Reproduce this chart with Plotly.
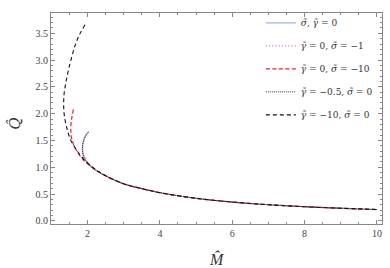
import plotly.graph_objects as go

# shared tail of all curves
tail_M = [2.5, 3.0, 3.5, 4.0, 5.0, 6.0, 7.0, 8.0, 9.0, 10.0]
tail_Q = [0.84, 0.69, 0.60, 0.525, 0.42, 0.35, 0.30, 0.263, 0.234, 0.21]

# sigma, gamma = 0
arc0_M = [2.03, 1.96, 1.91, 1.88, 1.865, 1.87, 1.90, 1.95, 2.02, 2.12, 2.26]
arc0_Q = [1.66, 1.60, 1.53, 1.45, 1.37, 1.29, 1.21, 1.14, 1.07, 1.00, 0.93]

# gamma = 0, sigma = -1
arc1_M = [2.03, 1.955, 1.905, 1.875, 1.86, 1.865, 1.895, 1.945, 2.015, 2.115, 2.26]
arc1_Q = [1.665, 1.60, 1.53, 1.45, 1.37, 1.29, 1.21, 1.14, 1.07, 1.00, 0.93]

# gamma = -0.5, sigma = 0
arc2_M = [2.02, 1.95, 1.90, 1.87, 1.855, 1.86, 1.89, 1.94, 2.01, 2.11, 2.26]
arc2_Q = [1.65, 1.59, 1.52, 1.44, 1.36, 1.28, 1.20, 1.13, 1.07, 1.00, 0.93]

# gamma = 0, sigma = -10
red_M = [1.61, 1.58, 1.555, 1.54, 1.54, 1.56, 1.61, 1.68, 1.77, 1.88, 2.01, 2.15, 2.30]
red_Q = [2.08, 1.98, 1.88, 1.78, 1.66, 1.54, 1.43, 1.33, 1.23, 1.14, 1.06, 0.99, 0.92]

# gamma = -10, sigma = 0
blk_M = [1.93, 1.78, 1.66, 1.56, 1.47, 1.40, 1.355, 1.34, 1.35, 1.39, 1.45,
         1.52, 1.62, 1.74, 1.88, 2.05, 2.30]
blk_Q = [3.66, 3.48, 3.28, 3.05, 2.81, 2.58, 2.39, 2.20, 2.02, 1.84, 1.68,
         1.53, 1.40, 1.28, 1.16, 1.05, 0.92]

labels = [
    "<i>σ̃</i>, <i>γ̃</i> = 0",
    "<i>γ̃</i> = 0, <i>σ̃</i> = −1",
    "<i>γ̃</i> = 0, <i>σ̃</i> = −10",
    "<i>γ̃</i> = −0.5, <i>σ̃</i> = 0",
    "<i>γ̃</i> = −10, <i>σ̃</i> = 0",
]

series = [
    (arc0_M, arc0_Q, "#9ab8dc", "solid", 1.3),
    (arc1_M, arc1_Q, "#d77fc8", "1.2px,2px", 1.2),
    (red_M, red_Q, "#e0203a", "4px,2.5px", 1.2),
    (arc2_M, arc2_Q, "#333333", "1px,1px", 1.0),
    (blk_M, blk_Q, "#111111", "4px,3px", 1.1),
]

fig = go.Figure()
for i, ((m, q, col, dash, w), lab) in enumerate(zip(series, labels)):
    fig.add_trace(go.Scatter(
        x=m + tail_M, y=q + tail_Q, mode="lines", name=lab,
        legendgroup=f"g{i}",
        line=dict(color=col, dash=dash, width=w, shape="spline"),
    ))

axis_common = dict(
    showgrid=False, zeroline=False, showline=True, linecolor="#888888",
    linewidth=1, mirror="ticks", ticks="inside", ticklen=4,
    tickcolor="#888888",
    tickfont=dict(family="Liberation Serif", size=10, color="#444444"),
)

fig.update_xaxes(range=[0.99, 10.14], tickvals=[2, 4, 6, 8, 10],
                 minor=dict(dtick=0.5, ticks="inside", ticklen=2, tickcolor="#888888"),
                 **axis_common)
fig.update_yaxes(range=[-0.06, 3.88], tickvals=[0, 0.5, 1.0, 1.5, 2.0, 2.5, 3.0, 3.5],
                 tickformat=".1f",
                 minor=dict(dtick=0.1, ticks="inside", ticklen=2, tickcolor="#888888"),
                 **axis_common)

fig.update_layout(
    width=390, height=268,
    margin=dict(l=51, r=8, t=8, b=44),
    plot_bgcolor="white", paper_bgcolor="white",
    showlegend=True,
    legend=dict(x=0.634, y=1.022, xanchor="left", yanchor="top",
                bgcolor="rgba(0,0,0,0)", tracegroupgap=4,
                font=dict(family="DejaVu Serif", size=9, color="#333333"),
                itemwidth=30),
    annotations=[
        dict(text="<i>M̂</i>", x=0.5, y=-0.167, xref="paper", yref="paper",
             xanchor="center", yanchor="middle", showarrow=False,
             font=dict(family="Liberation Serif", size=16, color="#333333")),
        dict(text="<i>Q̂</i>", x=-0.109, y=0.475, xref="paper", yref="paper",
             xanchor="center", yanchor="middle", showarrow=False, textangle=-90,
             font=dict(family="DejaVu Serif", size=15, color="#333333")),
    ],
)

fig.write_html("out.html", config={"displayModeBar": False},
               post_script="document.body.style.margin='0';document.body.style.padding='0';")
